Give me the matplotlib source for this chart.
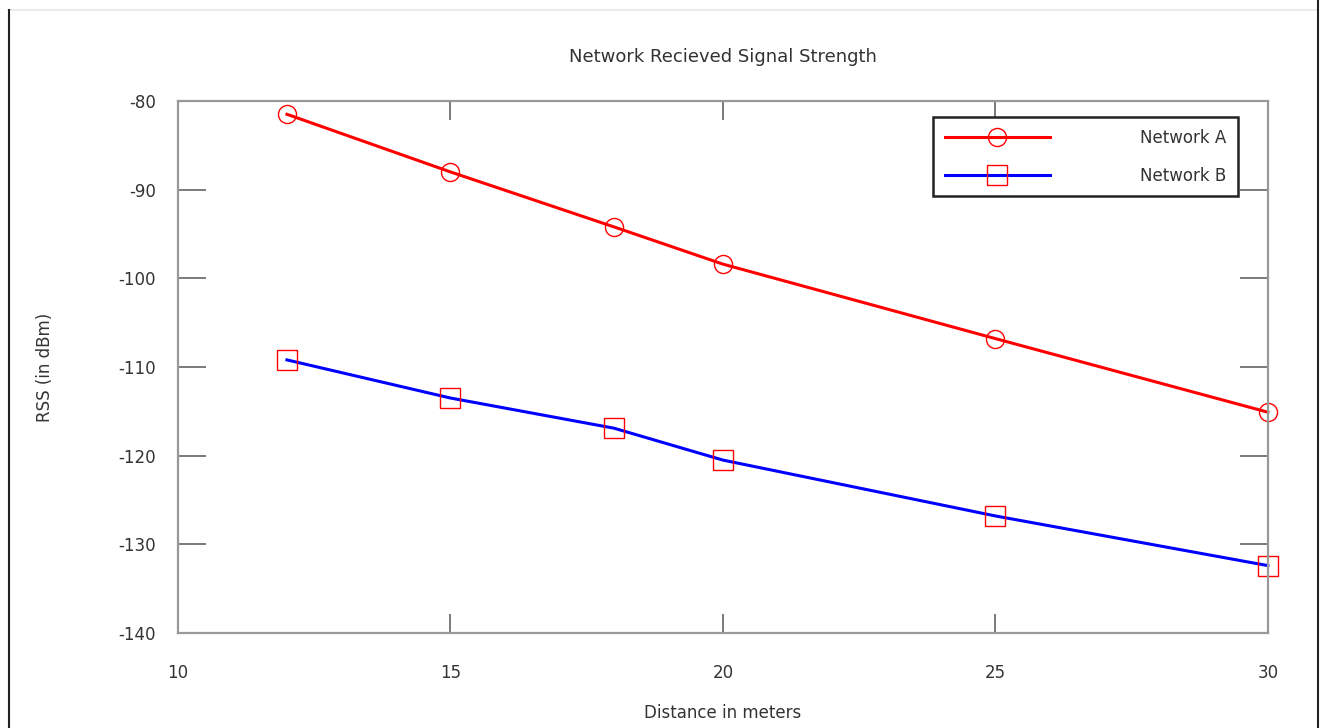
import matplotlib.pyplot as plt
from matplotlib.lines import Line2D

# values
distance = [12, 15, 18, 20, 25, 30]
rss_a = [-81.5, -88.0, -94.2, -98.4, -106.8, -115.1]
rss_b = [-109.2, -113.5, -116.9, -120.5, -126.8, -132.4]
x_ticks = [10, 15, 20, 25, 30]
y_ticks = [-140, -130, -120, -110, -100, -90, -80]

plt.rcParams["font.family"] = "sans-serif"
plt.rcParams["font.sans-serif"] = ["DejaVu Sans"]
plt.rcParams["axes.unicode_minus"] = False

fig = plt.figure(figsize=(13.25, 7.28), dpi=100)
ax = fig.add_axes([0.1343, 0.1305, 0.8226, 0.7308])

ax.plot(distance, rss_a, color="red", lw=2.2, marker="o", ms=13,
        mfc="none", mec="red", mew=1.0, label="Network A", clip_on=False)
ax.plot(distance, rss_b, color="blue", lw=2.2, marker="s", ms=14,
        mfc="none", mec="red", mew=1.0, label="Network B", clip_on=False)

ax.set_xlim(10, 30)
ax.set_ylim(-140, -80)
ax.set_xticks(x_ticks)
ax.set_yticks(y_ticks)

for s in ax.spines.values():
    s.set_color("#999999")
    s.set_linewidth(1.6)

ax.tick_params(axis="both", direction="in", top=True, right=True,
               colors="#707070", labelcolor="#333333", labelsize=12, width=1.3)
ax.tick_params(axis="y", length=20, pad=16)
ax.tick_params(axis="x", length=14, pad=22)

ax.set_title("Network Recieved Signal Strength", fontsize=13, color="#333333", pad=28)
ax.set_xlabel("Distance in meters", fontsize=12, color="#333333", labelpad=16)
ax.set_ylabel("RSS (in dBm)", fontsize=12, color="#333333", labelpad=46)

leg = ax.legend(loc="upper left", bbox_to_anchor=(0.6927, 0.970), borderaxespad=0,
                fontsize=12, handlelength=6.3, handletextpad=5.4, borderpad=0.7,
                labelspacing=1.2, fancybox=False, framealpha=1)
leg.get_frame().set_edgecolor("#222222")
leg.get_frame().set_linewidth(1.8)
for t in leg.get_texts():
    t.set_color("#333333")

# screenshot border lines
fig.add_artist(Line2D([8 / 1325, 1318 / 1325], [1 - 10 / 728, 1 - 10 / 728],
                      transform=fig.transFigure, color="#e6e6e6", lw=1.2))
fig.add_artist(Line2D([8.5 / 1325, 8.5 / 1325], [0, 1 - 10 / 728],
                      transform=fig.transFigure, color="#222222", lw=1.5))
fig.add_artist(Line2D([1318 / 1325, 1318 / 1325], [0, 1],
                      transform=fig.transFigure, color="#222222", lw=1.5))

fig.savefig("out.png", dpi=100)
